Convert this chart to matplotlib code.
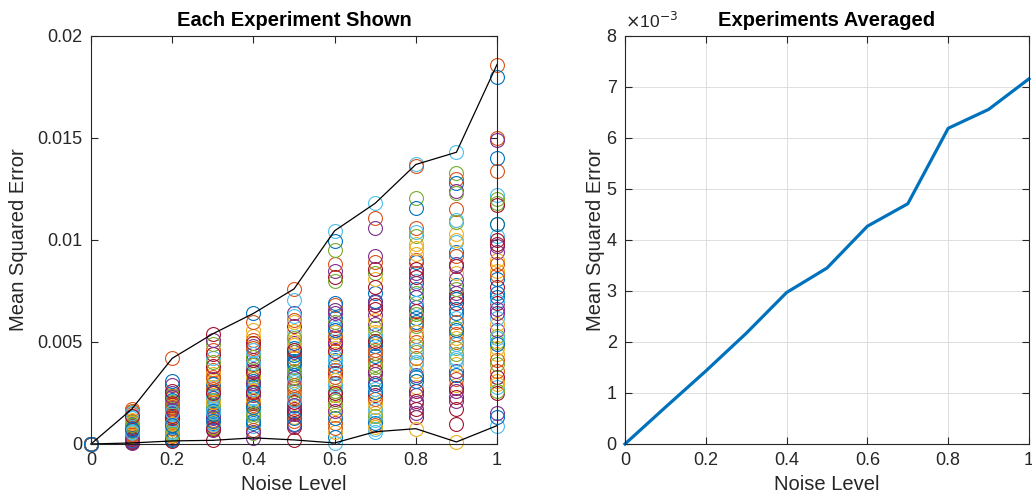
import numpy as np
import matplotlib
matplotlib.use("Agg")
import matplotlib.pyplot as plt
from matplotlib.ticker import FuncFormatter

plt.rcParams['font.family'] = ['Liberation Sans', 'DejaVu Sans']

noise = [0.0, 0.1, 0.2, 0.3, 0.4, 0.5, 0.6, 0.7, 0.8, 0.9, 1.0]

# per-experiment MSE at each noise level (units of 1e-3)
L00 = [0.0] * 50
L01 = [0.42, 1.12, 0.08, 0.65, 1.55, 0.30, 0.88, 0.15, 1.70, 0.52, 0.74, 1.02, 0.22, 0.95, 0.36, 1.38, 0.60, 0.05, 0.81, 1.25,
       0.47, 0.12, 1.62, 0.70, 0.27, 1.08, 0.56, 0.90, 0.18, 1.45, 0.39, 0.77, 0.63, 1.30, 0.10, 0.98, 0.50, 1.18, 0.33, 0.84,
       1.50, 0.25, 0.68, 0.44, 1.05, 0.14, 0.92, 0.58, 1.35, 0.72]
L02 = [1.20, 2.35, 0.45, 1.75, 0.90, 2.10, 0.30, 1.55, 4.20, 1.05, 2.50, 0.65, 1.40, 1.90, 0.20, 1.15, 2.25, 0.80, 1.62, 0.55,
       2.00, 1.30, 0.38, 1.85, 2.90, 0.98, 1.48, 0.15, 2.18, 1.10, 0.72, 1.68, 2.42, 0.60, 1.25, 3.10, 1.80, 0.42, 1.52, 2.05,
       0.85, 1.35, 0.25, 1.95, 1.00, 2.30, 0.50, 1.58, 2.60, 0.95]
L03 = [2.10, 4.60, 0.85, 3.20, 1.50, 2.80, 5.40, 1.05, 3.65, 2.40, 0.70, 1.85, 4.20, 2.60, 1.30, 3.00, 0.95, 2.25, 4.90, 1.65,
       0.18, 2.95, 1.20, 3.45, 2.00, 0.80, 1.75, 4.40, 2.55, 1.40, 3.10, 0.90, 2.15, 1.00, 3.80, 1.60, 2.70, 1.10, 5.10, 1.90,
       2.35, 0.75, 1.45, 3.30, 2.05, 1.25, 4.00, 1.55, 2.50, 1.15]
L04 = [2.80, 5.10, 1.20, 3.60, 0.55, 4.40, 2.10, 6.40, 3.20, 1.75, 4.80, 2.50, 0.90, 3.90, 1.50, 2.95, 5.30, 0.30, 3.45, 2.25,
       4.10, 1.05, 6.00, 2.65, 3.70, 1.35, 4.60, 2.00, 3.10, 0.70, 5.60, 2.40, 3.85, 1.60, 4.95, 2.85, 1.90, 3.30, 0.60, 4.25,
       2.70, 3.55, 1.15, 4.70, 2.15, 3.00, 1.45, 3.95, 2.55, 1.80]
L05 = [3.40, 6.10, 1.30, 4.50, 2.20, 5.30, 0.85, 3.90, 7.60, 2.70, 4.95, 1.60, 3.15, 5.80, 1.00, 4.20, 2.45, 6.40, 3.60, 1.85,
       0.20, 4.70, 2.90, 5.55, 1.45, 3.75, 7.06, 2.05, 4.35, 1.15, 5.05, 3.25, 2.60, 6.25, 1.70, 3.95, 2.30, 4.85, 0.95, 5.20,
       3.05, 1.55, 4.05, 2.80, 6.00, 1.90, 3.50, 2.15, 4.60, 1.25]
L06 = [4.10, 6.80, 1.40, 5.30, 2.60, 10.45, 3.50, 6.20, 0.80, 4.70, 8.50, 2.10, 5.70, 3.00, 9.95, 1.05, 4.40, 6.55, 2.40, 0.05,
       5.00, 3.80, 8.80, 1.75, 4.90, 6.00, 2.85, 8.20, 0.35, 3.30, 5.50, 1.60, 9.50, 4.25, 2.20, 6.90, 3.65, 0.60, 5.85, 8.00,
       2.95, 4.55, 1.25, 5.20, 3.15, 6.40, 1.90, 4.00, 2.50, 5.60]
L07 = [4.80, 8.90, 1.50, 6.30, 3.20, 11.80, 2.40, 7.40, 0.95, 5.50, 9.20, 3.90, 1.20, 6.80, 4.30, 11.10, 2.00, 5.90, 8.40, 0.60,
       3.60, 7.00, 4.60, 1.80, 10.60, 5.20, 2.70, 6.60, 1.05, 4.10, 8.10, 3.00, 5.70, 0.75, 7.70, 4.95, 2.20, 6.10, 3.45, 1.35,
       5.35, 8.60, 2.55, 4.45, 0.85, 6.95, 3.75, 1.65, 5.05, 2.90]
L08 = [6.20, 10.60, 2.80, 8.40, 4.50, 13.70, 1.30, 7.60, 5.30, 9.80, 3.40, 12.05, 6.90, 2.10, 8.90, 5.00, 0.75, 7.20, 10.20, 3.90,
       6.50, 11.55, 4.20, 9.30, 2.40, 5.80, 8.00, 1.70, 6.00, 13.65, 3.60, 7.90, 4.80, 10.40, 2.60, 6.70, 9.00, 5.50, 1.50, 7.40,
       4.00, 8.60, 3.10, 5.90, 9.60, 2.00, 6.35, 4.60, 8.20, 3.30]
L09 = [6.60, 11.50, 2.90, 8.80, 4.70, 14.30, 1.70, 7.80, 5.40, 10.30, 3.60, 13.30, 6.20, 2.30, 9.40, 5.00, 0.10, 7.40, 10.90, 4.10,
       6.90, 12.80, 3.20, 8.40, 2.60, 5.70, 9.90, 1.00, 7.10, 13.00, 3.90, 8.10, 4.40, 11.00, 2.75, 6.40, 9.20, 5.20, 12.40, 7.60,
       4.90, 8.70, 3.40, 6.00, 10.00, 2.10, 12.30, 4.20, 7.20, 5.60]
L10 = [7.20, 18.60, 3.10, 9.40, 5.00, 12.20, 2.50, 8.10, 15.00, 4.40, 6.60, 10.80, 0.90, 7.70, 14.00, 3.60, 9.00, 5.60, 11.80, 2.80,
       6.90, 18.00, 4.10, 8.50, 1.50, 5.30, 10.20, 3.30, 7.40, 13.40, 4.70, 9.70, 2.60, 6.20, 11.70, 1.30, 8.30, 5.90, 14.90, 3.90,
       7.00, 10.00, 4.90, 8.80, 2.95, 6.40, 12.00, 5.20, 9.80, 10.80]

# averaged MSE (units of 1e-3)
avg_mse = [0.0, 0.72, 1.43, 2.17, 2.97, 3.45, 4.27, 4.71, 6.19, 6.56, 7.16]

left_yticks = [0, 0.005, 0.01, 0.015, 0.02]
left_yticklabels = ['0', '0.005', '0.01', '0.015', '0.02']
xticks = [0, 0.2, 0.4, 0.6, 0.8, 1.0]
xticklabels = ['0', '0.2', '0.4', '0.6', '0.8', '1']
right_yticks = [0, 1, 2, 3, 4, 5, 6, 7, 8]

colors = [(0, 0.447, 0.741), (0.85, 0.325, 0.098), (0.929, 0.694, 0.125), (0.494, 0.184, 0.556),
          (0.466, 0.674, 0.188), (0.301, 0.745, 0.933), (0.635, 0.078, 0.184)]
axc = '#262626'

data = np.array([L00, L01, L02, L03, L04, L05, L06, L07, L08, L09, L10]) * 1e-3  # levels x experiments

fig = plt.figure(figsize=(10.32, 5.01), dpi=100)
ax1 = fig.add_axes([0.0882, 0.1138, 0.3934, 0.8144])
ax2 = fig.add_axes([0.6056, 0.1138, 0.3915, 0.8144])

def style(ax):
    for s in ax.spines.values():
        s.set_color(axc)
        s.set_linewidth(0.8)
    ax.tick_params(direction='in', length=5, width=0.8, colors=axc, labelsize=13,
                   top=True, right=True, pad=6)

# left
for i in range(data.shape[1]):
    ax1.plot(noise, data[:, i], 'o', mfc='none', mec=colors[i % 7], ms=10, mew=0.8, clip_on=False)
ax1.plot(noise, data.max(axis=1), '-', color='k', lw=0.9, clip_on=False)
ax1.plot(noise, data.min(axis=1), '-', color='k', lw=0.9, clip_on=False)
ax1.set_xlim(0, 1)
ax1.set_ylim(0, 0.02)
ax1.set_xticks(xticks)
ax1.set_xticklabels(xticklabels)
ax1.set_yticks(left_yticks)
ax1.set_yticklabels(left_yticklabels)
style(ax1)
ax1.set_title('Each Experiment Shown', fontsize=14.5, fontweight='bold', color='k', pad=7)
ax1.set_xlabel('Noise Level', fontsize=14.5, color=axc, labelpad=4)
ax1.set_ylabel('Mean Squared Error', fontsize=14.5, color=axc, labelpad=7)

# right
ax2.plot(noise, np.array(avg_mse) * 1e-3, '-', color=colors[0], lw=2.3, clip_on=False)
ax2.set_xlim(0, 1)
ax2.set_ylim(0, 8e-3)
ax2.set_xticks(xticks)
ax2.set_xticklabels(xticklabels)
ax2.set_yticks([v * 1e-3 for v in right_yticks])
ax2.yaxis.set_major_formatter(FuncFormatter(lambda v, p: f'{v * 1e3:g}'))
ax2.grid(True, color='#d9d9d9', lw=0.6)
ax2.set_axisbelow(True)
style(ax2)
ax2.set_title('Experiments Averaged', fontsize=14.5, fontweight='bold', color='k', pad=7)
ax2.set_xlabel('Noise Level', fontsize=14.5, color=axc, labelpad=4)
ax2.set_ylabel('Mean Squared Error', fontsize=14.5, color=axc, labelpad=1)
ax2.text(0.0, 1.012, r'$\times$10$^{-3}$', transform=ax2.transAxes, fontsize=12.5, color=axc,
         ha='left', va='bottom')

fig.savefig('out.png', dpi=100)
